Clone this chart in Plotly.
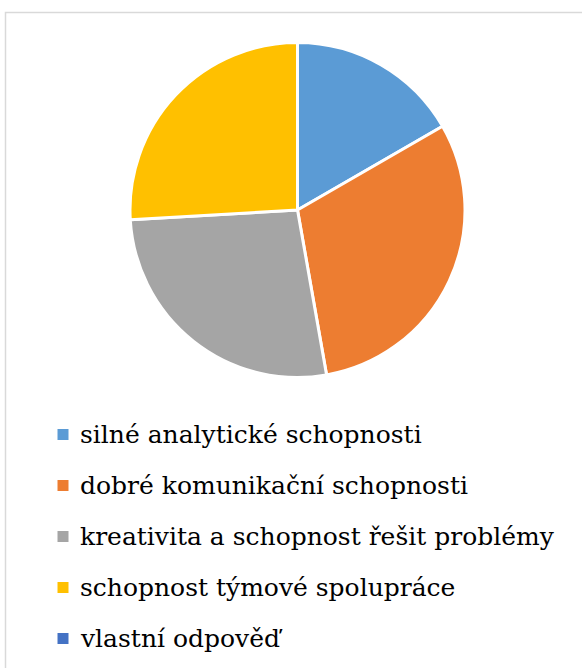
import plotly.graph_objects as go

labels = [
    "silné analytické schopnosti",
    "dobré komunikační schopnosti",
    "kreativita a schopnost řešit problémy",
    "schopnost týmové spolupráce",
    "vlastní odpověď",
]
values = [18, 33, 29, 28, 0]
colors = ["#5B9BD5", "#ED7D31", "#A5A5A5", "#FFC000", "#4472C4"]

W, H = 582, 668


def px(x):
    return x / W


def py(y):
    return 1 - y / H


fig = go.Figure()
fig.add_trace(go.Pie(
    labels=labels,
    values=values,
    sort=False,
    direction="clockwise",
    rotation=0,
    textinfo="none",
    marker=dict(colors=colors, line=dict(color="white", width=3)),
    domain=dict(x=[px(130), px(465)], y=[py(377.5), py(42.5)]),
    showlegend=False,
))

legend_top = 434.5
legend_step = 51.0
FONT = "DejaVu Serif"
shapes = [
    dict(type="rect", xref="paper", yref="paper",
         x0=px(5.5), x1=1.05, y0=-0.05, y1=py(12.5),
         line=dict(color="#D9D9D9", width=1.5), fillcolor="rgba(0,0,0,0)", layer="below"),
]
annotations = []
for i, (lab, col) in enumerate(zip(labels, colors)):
    yc = legend_top + i * legend_step
    shapes.append(dict(type="rect", xref="paper", yref="paper",
                       x0=px(57.5), x1=px(68.5),
                       y0=py(yc + 5.5), y1=py(yc - 5.5),
                       fillcolor=col, line=dict(width=0)))
    annotations.append(dict(xref="paper", yref="paper", x=px(78), y=py(yc),
                            xanchor="left", yanchor="middle", text=lab, showarrow=False,
                            font=dict(family=FONT, size=25, color="#000000")))

fig.update_layout(
    width=W, height=H,
    margin=dict(l=0, r=0, t=0, b=0),
    paper_bgcolor="white",
    plot_bgcolor="white",
    shapes=shapes,
    annotations=annotations,
    font=dict(family=FONT),
)

fig.write_html("out.html", config={"displayModeBar": False},
               post_script="document.body.style.margin='0';")
